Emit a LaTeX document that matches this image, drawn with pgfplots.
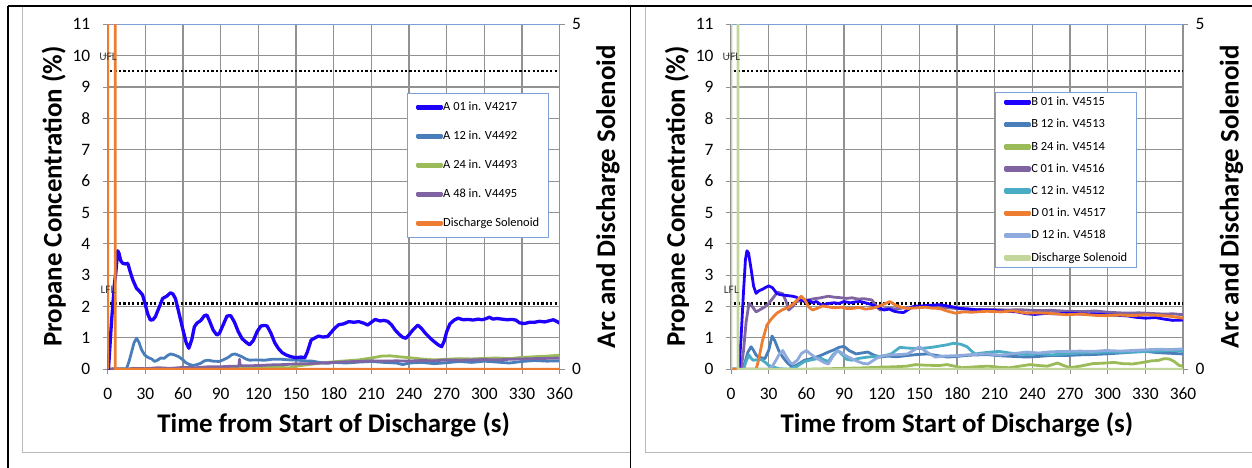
\documentclass[border=0pt]{standalone}
\usepackage{fontspec}
\setmainfont{Carlito}
\usepackage{pgfplots}
\pgfplotsset{compat=1.18}
\definecolor{cA}{RGB}{30,0,255}
\definecolor{cSteel}{RGB}{74,126,187}
\definecolor{cGreen}{RGB}{155,187,89}
\definecolor{cPurple}{RGB}{128,100,162}
\definecolor{cTeal}{RGB}{75,172,198}
\definecolor{cOrange}{RGB}{237,125,49}
\definecolor{cLight}{RGB}{143,170,220}
\definecolor{cSol}{RGB}{195,214,155}
\definecolor{gridc}{RGB}{145,145,145}
\definecolor{bordc}{RGB}{125,160,215}
\definecolor{lblc}{RGB}{60,60,60}
\tikzset{
  flbl/.style={font=\fontsize{11.5}{12}\selectfont, text=lblc, inner sep=0pt},
  lfl/.style={black, line width=2.2bp, dash pattern=on 2.2bp off 2.2bp, line cap=butt},
}
\pgfplotsset{
  panelbase/.style={
    scale only axis, width=452bp, height=345bp, anchor=south west,
    xmin=0, xmax=360, clip mode=individual,
    axis line style={draw=gridc, line width=1bp},
    tick style={draw=gridc, line width=1bp},
    tick align=outside, major tick length=5bp,
    ticklabel style={font=\fontsize{17.5}{19}\selectfont},
    /pgf/number format/assume math mode=true,
    label style={font=\fontsize{27}{31}\selectfont\bfseries},
    every axis plot/.append style={line width=2.8bp, line join=round, line cap=round},
  },
  leftax/.style={
    panelbase,
    ymin=0, ymax=11,
    xtick={0,30,...,360}, ytick={0,1,...,11},
    xtick pos=left, ytick pos=left,
    xticklabel style={yshift=-10bp},
    yticklabel style={xshift=-9bp},
    grid=major, major grid style={draw=gridc, line width=1.1bp},
    xlabel={Time from Start of Discharge (s)},
    ylabel={Propane Concentration (\%)},
    xlabel style={at={(axis description cs:0.5,-0.1623)}, anchor=center},
    ylabel style={at={(axis description cs:-0.1195,0.5)}, anchor=center},
    extra description/.code={\draw[bordc, line width=1bp] (0,1) -- (1,1);},
  },
  rightax/.style={
    panelbase,
    ymin=0, ymax=5, ytick={0,5},
    axis x line=none, axis y line*=right,
    yticklabel style={xshift=4bp},
    ylabel={Arc and Discharge Solenoid},
    ylabel style={at={(axis description cs:1.107,0.5)}, anchor=center},
    legend cell align=left,
    legend image code/.code={\fill[#1] (0bp,-1.4bp) rectangle (24bp,1.4bp);},
  },
}
\begin{document}
\begin{tikzpicture}
\path[use as bounding box] (0bp,0bp) rectangle (1252bp,468bp);
\draw[gray!55, line width=1bp] (22bp,461bp) -- (22bp,15bp) -- (630bp,15bp);
\draw[gray!55, line width=1bp] (645bp,461bp) -- (645bp,15bp) -- (1252bp,15bp);
\draw[black, line width=1.5bp] (8bp,462bp) -- (1252bp,462bp);
\draw[black, line width=1.5bp] (8bp,0bp) -- (8bp,462bp);
\draw[black, line width=1.5bp] (630.5bp,0bp) -- (630.5bp,462bp);

% ================= LEFT PANEL =================
\begin{axis}[leftax, at={(107.7bp,98.7bp)}]
\addplot[lfl] coordinates {(2,2.1)(360,2.1)};
\addplot[lfl] coordinates {(2,9.5)(360,9.5)};
\addplot[cGreen] coordinates {(0,0)(60,0)(90,0.02)(110,0.05)(130,0.06)(145,0.05)(150,0.1)(160,0.15)(170,0.2)(180,0.24)(190,0.27)(200,0.3)(210,0.36)(218,0.42)(225,0.43)(232,0.4)(240,0.37)(250,0.33)(260,0.3)(270,0.32)(280,0.34)(290,0.33)(300,0.35)(310,0.36)(320,0.34)(330,0.38)(340,0.4)(350,0.42)(360,0.45)};
\addplot[cSteel] coordinates {(0,0)(15,0.02)(17,0.25)(19,0.55)(21,0.85)(23,0.99)(25,0.85)(27,0.62)(29.4,0.46)(32,0.38)(35,0.33)(37.4,0.25)(40,0.3)(42.2,0.36)(45,0.35)(48,0.45)(50.2,0.49)(53,0.46)(56.6,0.4)(60,0.3)(62,0.22)(64.6,0.16)(68,0.12)(71,0.15)(74,0.19)(77,0.27)(80,0.29)(84,0.26)(88.7,0.25)(92,0.3)(96,0.38)(99,0.47)(101.4,0.49)(104,0.45)(107,0.4)(110,0.33)(113,0.29)(118,0.3)(125,0.29)(131,0.32)(138,0.32)(145,0.3)(152,0.29)(157,0.27)(163,0.26)(170,0.21)(175,0.19)(180,0.22)(190,0.2)(200,0.23)(210,0.25)(220,0.22)(230,0.2)(235,0.15)(240,0.2)(250,0.22)(260,0.18)(270,0.21)(280,0.25)(290,0.22)(300,0.26)(310,0.23)(320,0.2)(330,0.25)(340,0.28)(350,0.26)(360,0.27)};
\addplot[cPurple] coordinates {(0,0)(5,0.02)(15,0.0)(20,0.03)(30,0.02)(40,0.05)(50,0.03)(60,0.06)(70,0.05)(80,0.08)(90,0.08)(100,0.1)(104.5,0.1)(105,0.32)(105.5,0.12)(110,0.11)(120,0.12)(130,0.14)(140,0.15)(150,0.17)(160,0.18)(170,0.2)(180,0.22)(190,0.24)(200,0.25)(210,0.27)(220,0.26)(230,0.27)(240,0.26)(250,0.28)(260,0.27)(270,0.3)(280,0.29)(290,0.3)(300,0.31)(310,0.3)(320,0.32)(330,0.33)(340,0.34)(350,0.35)(360,0.36)};
\addplot[cA, line width=3.3bp] coordinates {(0,0)(0.6,0)(3,1.5)(5.4,2.74)(6.5,3.1)(8,3.78)(9,3.7)(10.5,3.45)(12,3.38)(14,3.36)(16,3.38)(18,3.1)(20,2.85)(23,2.58)(25.5,2.48)(27.8,2.37)(30,2.05)(32,1.75)(34,1.57)(36,1.58)(38,1.68)(41,1.98)(43.8,2.26)(47,2.33)(50,2.44)(52,2.4)(54,2.25)(57,1.75)(60,1.25)(62.5,0.85)(64.6,0.67)(67,0.95)(69,1.35)(71,1.47)(74,1.55)(77,1.71)(79,1.73)(81,1.55)(84,1.25)(87,1.09)(89,1.15)(92,1.42)(95,1.7)(98,1.71)(101,1.5)(104,1.2)(107,0.98)(110,0.87)(113,0.78)(116,0.92)(119,1.2)(122,1.38)(125,1.4)(127,1.38)(130,1.15)(133,0.85)(136,0.66)(139,0.53)(142,0.46)(146,0.4)(150,0.37)(154,0.39)(157,0.37)(159,0.55)(162,0.93)(165,1.0)(168,1.06)(171,1.03)(175,1.04)(178,1.18)(181,1.32)(184,1.42)(188,1.45)(192,1.52)(196,1.5)(200,1.52)(204,1.47)(207,1.41)(210,1.5)(213,1.59)(217,1.54)(220,1.56)(223,1.53)(226,1.42)(229,1.25)(232,1.12)(235,1.02)(237.5,0.99)(240,1.1)(243,1.25)(247,1.41)(250,1.3)(253,1.15)(256,1.03)(258,0.95)(261,0.85)(264,0.76)(266,0.72)(268,0.9)(270,1.2)(272.6,1.45)(276,1.57)(279,1.63)(283,1.58)(287,1.59)(291,1.57)(295,1.6)(298,1.58)(301,1.61)(304,1.66)(307,1.6)(310,1.62)(314,1.6)(318,1.58)(322,1.59)(325,1.57)(328,1.48)(332,1.46)(336,1.5)(340,1.5)(344,1.53)(348,1.51)(352,1.55)(355,1.58)(358,1.52)(360,1.47)};
\end{axis}
\begin{axis}[rightax, at={(107.7bp,98.7bp)},
  legend style={at={(0.662,0.801)}, anchor=north west, draw=bordc, line width=1bp, fill=white,
    font=\fontsize{12.5}{14}\selectfont, row sep=18.5bp, inner xsep=9bp, inner ysep=8.7bp,
    nodes={inner sep=0pt, text height=8.5bp, text depth=2bp}}]
\addlegendimage{cA}\addlegendentry{A 01 in. V4217}
\addlegendimage{cSteel}\addlegendentry{A 12 in. V4492}
\addlegendimage{cGreen}\addlegendentry{A 24 in. V4493}
\addlegendimage{cPurple}\addlegendentry{A 48 in. V4495}
\addplot[cOrange, line cap=butt] coordinates {(0,0)(0.1,12)(6,12)(6.05,0)(360,0)};
\addlegendentry{Discharge Solenoid}
\node[flbl] at (axis cs:0.3,4.527) {UFL};
\node[flbl] at (axis cs:0.3,1.15) {LFL};
\end{axis}

% ================= RIGHT PANEL =================
\begin{axis}[leftax, at={(731bp,98.7bp)}]
\addplot[lfl] coordinates {(2,2.1)(360,2.1)};
\addplot[lfl] coordinates {(2,9.5)(360,9.5)};
\addplot[cGreen] coordinates {(0,0)(50,0)(60,0.0)(80,0.02)(100,0.04)(109,0.05)(120,0.07)(130,0.08)(140,0.1)(147,0.15)(155,0.13)(166,0.12)(172,0.15)(178,0.1)(184,0.05)(195,0.08)(205,0.1)(215,0.06)(222,0.05)(230,0.1)(238,0.15)(245,0.12)(252,0.1)(260,0.2)(265,0.12)(270,0.05)(278,0.1)(288,0.18)(298.7,0.2)(305,0.22)(312,0.18)(320,0.17)(328,0.22)(335,0.27)(340,0.28)(345,0.34)(349,0.33)(353,0.25)(357,0.12)(360,0.1)};
\addplot[cSteel] coordinates {(0,0)(8,0)(11,0.2)(13.5,0.55)(16,0.72)(18,0.6)(20,0.45)(22,0.39)(27,0.34)(30,0.6)(32.7,1.06)(35,0.9)(38,0.6)(41.2,0.39)(45,0.2)(49,0.07)(53,0.15)(58.5,0.29)(63,0.33)(68,0.39)(72,0.45)(77.5,0.55)(82,0.62)(86,0.7)(90,0.73)(94,0.6)(99.6,0.49)(104,0.52)(109,0.55)(114,0.45)(118.7,0.39)(125,0.42)(132,0.4)(140.7,0.44)(148,0.47)(156.5,0.49)(164,0.44)(172.4,0.39)(180,0.41)(190,0.45)(203.9,0.47)(215,0.43)(225,0.41)(235.5,0.39)(245,0.41)(255,0.44)(267,0.44)(278,0.46)(288,0.47)(298.7,0.49)(310,0.52)(320,0.55)(330,0.57)(340,0.53)(350,0.51)(360,0.49)};
\addplot[cTeal] coordinates {(0,0)(10,0)(12,0.25)(14.3,0.46)(16,0.35)(17.5,0.29)(20,0.3)(23.8,0.32)(28,0.2)(30,0.12)(33.3,0.08)(38,0.02)(46,0.0)(52,0.08)(58.5,0.25)(64,0.3)(71,0.36)(74,0.3)(77.5,0.25)(81,0.45)(85,0.6)(89,0.45)(92,0.32)(96.4,0.29)(102,0.35)(109,0.39)(115,0.41)(121.8,0.42)(128,0.5)(134.4,0.7)(140,0.68)(147,0.66)(153,0.67)(159.7,0.7)(166,0.74)(172,0.78)(177,0.83)(183,0.8)(188,0.72)(191,0.6)(194.4,0.49)(200,0.52)(207,0.55)(213.4,0.57)(222,0.52)(235.5,0.47)(245,0.5)(255,0.46)(267,0.49)(278,0.52)(288,0.53)(298.7,0.55)(310,0.54)(320,0.55)(330,0.57)(340,0.58)(350,0.6)(360,0.59)};
\addplot[cLight] coordinates {(0,0)(30,0)(33,0.1)(36,0.3)(38,0.45)(41.2,0.6)(44,0.4)(47,0.22)(49,0.17)(53,0.3)(56,0.5)(60,0.6)(63,0.5)(67,0.38)(71,0.29)(74,0.22)(77.5,0.17)(81,0.4)(85,0.6)(89,0.5)(92,0.42)(96.4,0.33)(101,0.25)(105,0.19)(109,0.17)(114,0.3)(118,0.4)(121.8,0.44)(128,0.46)(134,0.47)(140.7,0.49)(146,0.62)(150,0.72)(154,0.6)(158,0.5)(162.6,0.39)(170,0.42)(181.7,0.44)(192,0.47)(203.9,0.49)(215,0.45)(225,0.5)(235.5,0.55)(245,0.52)(255,0.56)(267,0.57)(278,0.58)(288,0.57)(298.7,0.6)(310,0.58)(320,0.6)(330,0.62)(340,0.64)(350,0.63)(360,0.65)};
\addplot[cPurple] coordinates {(0,0)(8,0)(10,0.6)(12,1.5)(14.3,2.1)(17,2.0)(20,1.83)(23,1.9)(27,1.99)(30,2.1)(33,2.25)(37,2.46)(41.2,2.41)(43.5,2.2)(46,1.89)(49,2.0)(52.3,2.16)(57,2.2)(61.7,2.21)(66,2.25)(70,2.27)(77.5,2.33)(82,2.3)(88,2.28)(92,2.26)(96.4,2.28)(101,2.24)(106,2.25)(112.3,2.21)(115,2.05)(118.7,1.89)(124,1.95)(130,1.93)(134.4,1.94)(140,1.97)(148,1.99)(159.7,2.02)(170,1.97)(185,1.92)(195,1.9)(205,1.91)(219.7,1.89)(230,1.9)(245,1.87)(255,1.88)(267,1.85)(280,1.84)(290,1.86)(300,1.82)(314.5,1.79)(325,1.8)(335,1.78)(345,1.76)(352,1.77)(360,1.74)};
\addplot[cA] coordinates {(0,0)(6.4,0)(8,1.0)(10,2.5)(11.5,3.5)(12.7,3.78)(14,3.7)(16,3.2)(18,2.65)(20,2.42)(22,2.5)(25,2.55)(28,2.62)(30.1,2.66)(33,2.6)(36.5,2.42)(39,2.38)(41.2,2.37)(45,2.35)(49,2.33)(52,2.3)(55,2.22)(58.5,2.16)(62,2.2)(65,2.12)(68,2.16)(72,2.05)(77.5,2.1)(82,2.12)(86,2.1)(90,2.16)(95,2.12)(99,2.15)(102.8,2.16)(107,2.12)(112.3,2.06)(116,2.0)(121.8,1.89)(126,1.92)(130,1.85)(134,1.82)(137.5,1.81)(141,1.9)(144,1.98)(147,2.02)(152,2.02)(158,2.04)(166,2.06)(172,2.02)(178,1.98)(181.7,1.94)(188,1.93)(195,1.9)(203.9,1.89)(212,1.87)(220,1.85)(228,1.83)(235.5,1.77)(242,1.75)(250,1.78)(260,1.77)(270.3,1.79)(280,1.76)(290,1.77)(298.7,1.74)(308,1.72)(316,1.7)(322,1.66)(330.3,1.63)(338,1.65)(345,1.6)(352,1.56)(360,1.57)};
\addplot[cOrange] coordinates {(0,0)(20,0)(22,0.3)(25,0.9)(28.6,1.41)(32,1.6)(36.5,1.79)(41,1.9)(46,1.98)(50,2.1)(53,2.22)(56,2.33)(59,2.2)(62,1.98)(65,1.89)(69,1.95)(73,2.02)(77.5,1.99)(82,1.96)(88,1.98)(92,1.94)(96.4,1.94)(102,1.97)(107,1.92)(112,1.94)(117,2.0)(122,2.08)(126.5,2.16)(131,2.05)(136,1.97)(140.7,1.94)(148,1.96)(155,1.98)(160,1.95)(166,1.94)(172,1.86)(178.6,1.79)(185,1.83)(192,1.82)(203.9,1.85)(215,1.83)(225,1.86)(235.5,1.79)(245,1.8)(255,1.78)(267,1.74)(278,1.76)(290,1.72)(298.7,1.71)(310,1.73)(320,1.71)(330.3,1.74)(340,1.72)(350,1.69)(355,1.66)(360,1.63)};
\end{axis}
\begin{axis}[rightax, at={(731bp,98.7bp)},
  legend style={at={(0.584,0.804)}, anchor=north west, draw=bordc, line width=1bp, fill=white,
    font=\fontsize{12.5}{14}\selectfont, row sep=11.7bp, inner xsep=9bp, inner ysep=4.7bp,
    nodes={inner sep=0pt, text height=8.5bp, text depth=2bp}}]
\addlegendimage{cA}\addlegendentry{B 01 in. V4515}
\addlegendimage{cSteel}\addlegendentry{B 12 in. V4513}
\addlegendimage{cGreen}\addlegendentry{B 24 in. V4514}
\addlegendimage{cPurple}\addlegendentry{C 01 in. V4516}
\addlegendimage{cTeal}\addlegendentry{C 12 in. V4512}
\addlegendimage{cOrange}\addlegendentry{D 01 in. V4517}
\addlegendimage{cLight}\addlegendentry{D 12 in. V4518}
\addplot[cSol, line cap=butt] coordinates {(0,0)(0.1,12)(5.5,12)(5.55,0)(360,0)};
\addlegendentry{Discharge Solenoid}
\node[flbl] at (axis cs:0.3,4.527) {UFL};
\node[flbl] at (axis cs:0.3,1.15) {LFL};
\end{axis}
\end{tikzpicture}
\end{document}
